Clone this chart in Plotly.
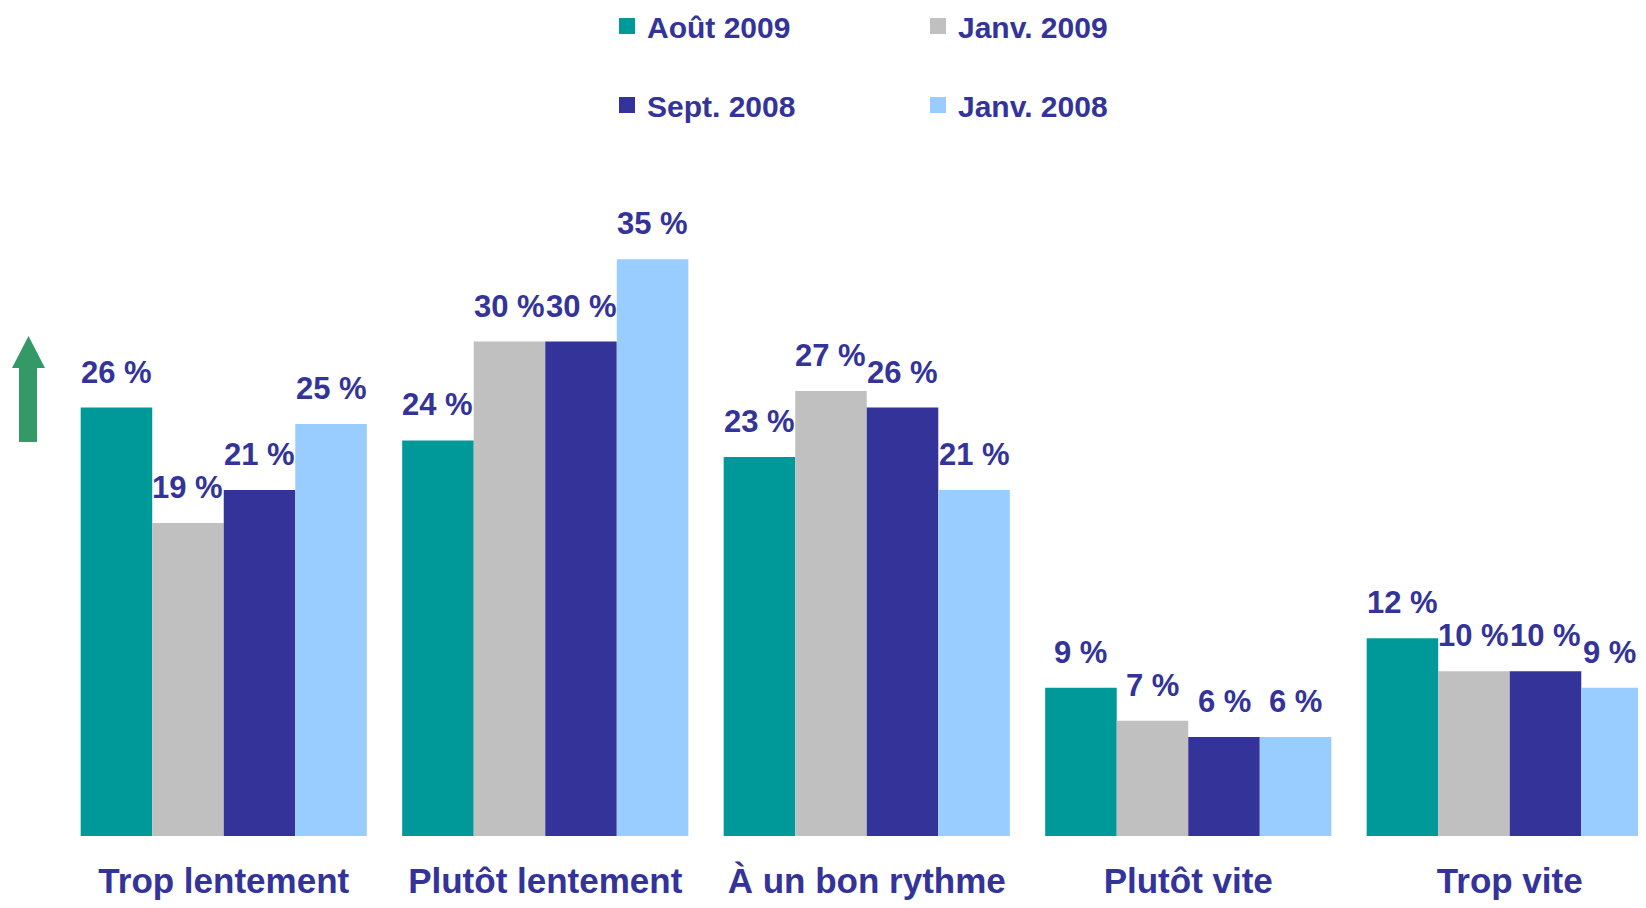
import plotly.graph_objects as go

categories = ["Trop lentement", "Plutôt lentement", "À un bon rythme", "Plutôt vite", "Trop vite"]
series_names = ["Août 2009", "Janv. 2009", "Sept. 2008", "Janv. 2008"]
aout_2009 = [26, 24, 23, 9, 12]
janv_2009 = [19, 30, 27, 7, 10]
sept_2008 = [21, 30, 26, 6, 10]
janv_2008 = [25, 35, 21, 6, 9]
series_values = [aout_2009, janv_2009, sept_2008, janv_2008]
colors = ["#009999", "#C0C0C0", "#333399", "#99CCFF"]

# page has an 8px body margin; figure sized to fit the 1646x908 window
OFF = 8
W, H = 1646 - 2 * OFF, 908 - 2 * OFF
ML, MT = 63 - OFF, 10 - OFF
MB = H - (836 - OFF)
plot_w = W - ML
plot_h = H - MT - MB
cat_px = 321.5
px_per_pct = 16.48
bargap = 0.11
bar_px = cat_px * (1 - bargap) / 4
TXT = "#333399"
FONT = "Liberation Sans, Arial, sans-serif"
LABEL_SIZE = 31

def px_x(p):
    return (p - OFF - ML) / plot_w

def px_y(p):
    return (836 - p) / plot_h

fig = go.Figure()
for i, (name, vals) in enumerate(zip(series_names, series_values)):
    fig.add_trace(go.Bar(x=categories, y=vals, name=name, marker=dict(color=colors[i], line=dict(width=0)),
                         showlegend=False, hoverinfo="x+y"))
    # legend entries
    fig.add_trace(go.Scatter(x=[None], y=[None], mode="markers", name=f"<b>{name}</b>",
                             marker=dict(symbol="square", size=16, color=colors[i]),
                             legend="legend" if i in (0, 1) else "legend2"))
    for j, (c, v) in enumerate(zip(categories, vals)):
        label = f"{v} %"
        shift = (i - 1.5) * bar_px
        # keep labels inside the figure's right edge
        est_w = LABEL_SIZE * (0.556 * len(str(v)) + 1.17)
        centre = ML + (j + 0.5) * cat_px + shift
        overflow = centre + est_w / 2 - (W - 2)
        if overflow > 0:
            shift -= overflow
        fig.add_annotation(x=c, y=v, text=f"<b>{label}</b>", showarrow=False,
                           xshift=shift, yshift=16, yanchor="bottom",
                           font=dict(family=FONT, size=LABEL_SIZE, color=TXT))

# green arrow
pts = [(28.5, 336), (45, 368), (37, 368), (37, 442), (19, 442), (19, 368), (12, 368)]
path = "M " + " L ".join(f"{px_x(x):.5f},{px_y(y):.5f}" for x, y in pts) + " Z"
fig.add_shape(type="path", path=path, xref="paper", yref="paper",
              fillcolor="#339966", line=dict(width=0))

leg_common = dict(orientation="h", xanchor="left", yanchor="middle", entrywidth=266,
                  font=dict(family=FONT, size=30, color=TXT), bgcolor="rgba(0,0,0,0)",
                  itemclick=False, itemdoubleclick=False)

fig.update_layout(
    width=W, height=H,
    margin=dict(l=ML, r=0, t=MT, b=MB, autoexpand=False),
    paper_bgcolor="white", plot_bgcolor="white",
    barmode="group", bargap=bargap, bargroupgap=0,
    font=dict(family=FONT, color=TXT),
    xaxis=dict(range=[-0.5, -0.5 + plot_w / cat_px], showgrid=False, showline=False, zeroline=False,
               ticks="", tickfont=dict(family=FONT, size=35, color=TXT), ticklabelstandoff=21,
               tickvals=categories, ticktext=[f"<b>{c}</b>" for c in categories], fixedrange=True),
    yaxis=dict(range=[0, plot_h / px_per_pct], visible=False, fixedrange=True),
    legend=dict(x=px_x(607), y=px_y(26), **leg_common),
    legend2=dict(x=px_x(607), y=px_y(105), **leg_common),
    showlegend=True,
)

fig.write_html("out.html")
